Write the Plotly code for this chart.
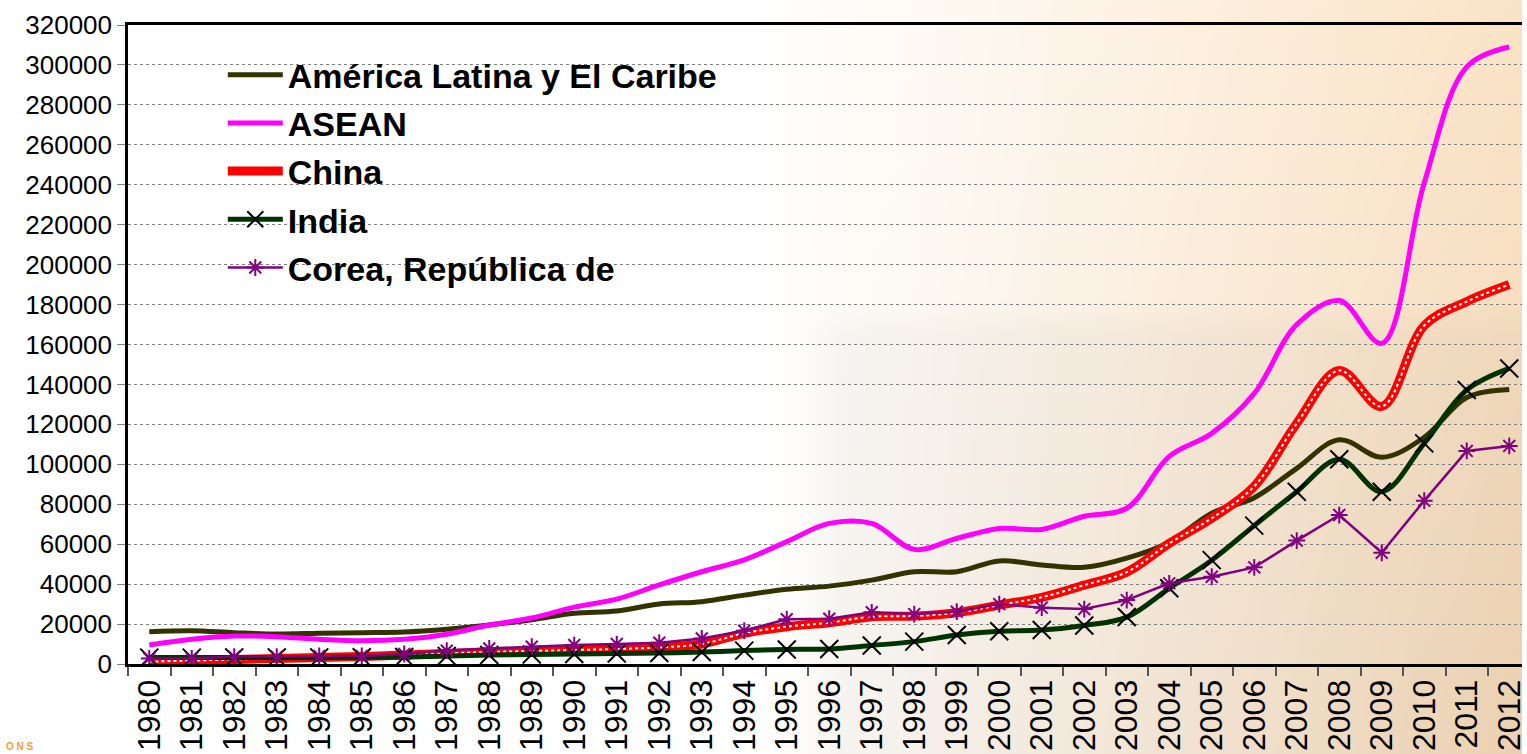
import base64
import struct
import zlib

import numpy as np
import plotly.graph_objects as go

years = [str(y) for y in range(1980, 2013)]

latam = [16200, 16700, 15700, 15000, 15400, 15700, 16000, 17400, 19500, 22200,
         25400, 26500, 30000, 31200, 34500, 37400, 39000, 42000, 46200, 46200,
         51600, 49600, 48400, 53000, 61000, 75500, 83300, 98000, 112300, 103500,
         113500, 133500, 137500]
asean = [9500, 12400, 14000, 13700, 12400, 11700, 12400, 14900, 19500, 23000,
         28500, 32500, 39600, 46200, 52100, 61300, 70400, 70400, 57400, 62900,
         67900, 67400, 74000, 78000, 104000, 115500, 135500, 170000, 182000, 160600,
         241000, 299000, 309000]
china = [1200, 1700, 2300, 2800, 3300, 3800, 4500, 5300, 6000, 6500,
         7000, 7500, 8300, 10000, 15400, 18700, 20700, 23700, 24000, 25700,
         29500, 33400, 39500, 46000, 60400, 73000, 89000, 120500, 147000, 129000,
         169500, 181500, 190000]
india = [3200, 3200, 3300, 3300, 3300, 3400, 3500, 4000, 4500, 4800,
         5000, 5300, 5500, 6000, 6700, 7300, 7500, 9300, 11200, 14500,
         16400, 17000, 19300, 23500, 37900, 52000, 69300, 86300, 102500, 86300,
         110500, 137200, 148000]
korea = [2800, 2800, 3700, 3700, 4000, 4000, 5000, 6700, 7800, 8700,
         9500, 10000, 10700, 12800, 16700, 22400, 22700, 25900, 25000, 26200,
         30000, 28200, 27500, 32000, 40400, 43700, 48400, 61800, 74600, 55700,
         81800, 106700, 109200]

W, H = 1527, 754


def background_uri():
    # white on the left fading into peach on the right, with a faint grey box
    x = np.arange(W, dtype=float)
    y = np.arange(H, dtype=float)
    t = np.clip((x - 760) / (W - 760), 0, 1) ** 1.05
    v = (y / H)[:, None]
    top = np.array([251, 228, 198], dtype=float)
    bot = np.array([242, 215, 182], dtype=float)
    right = top * (1 - v) + bot * v
    img = 255 * (1 - t[None, :, None]) + right[:, None, :] * t[None, :, None]
    mx = np.clip((x - 800) / 45, 0, 1)[None, :]
    my = np.clip((y - 300) / 35, 0, 1)[:, None]
    img *= (1 - 0.028 * mx * my)[:, :, None]
    img = np.clip(img, 0, 255).astype(np.uint8)
    raw = np.concatenate([np.zeros((H, 1), np.uint8), img.reshape(H, W * 3)], axis=1).tobytes()

    def chunk(tag, data):
        c = struct.pack(">I", len(data)) + tag + data
        return c + struct.pack(">I", zlib.crc32(tag + data) & 0xffffffff)

    png = b"\x89PNG\r\n\x1a\n" + chunk(b"IHDR", struct.pack(">IIBBBBB", W, H, 8, 2, 0, 0, 0)) \
        + chunk(b"IDAT", zlib.compress(raw, 9)) + chunk(b"IEND", b"")
    return "data:image/png;base64," + base64.b64encode(png).decode()


fig = go.Figure()

fig.add_trace(go.Scatter(x=years, y=latam, mode="lines", name="América Latina y El Caribe",
                         legendgroup="a",
                         line=dict(color="#333300", width=5, shape="spline", smoothing=1)))
fig.add_trace(go.Scatter(x=years, y=asean, mode="lines", name="ASEAN", legendgroup="b",
                         line=dict(color="#FF00FF", width=5, shape="spline", smoothing=1)))
fig.add_trace(go.Scatter(x=years, y=china, mode="lines", name="China", legendgroup="c",
                         line=dict(color="#FF0000", width=9, shape="spline", smoothing=1)))
# white dots inside the China line
fig.add_trace(go.Scatter(x=years, y=china, mode="lines", showlegend=False, hoverinfo="skip",
                         legendgroup="c",
                         line=dict(color="white", width=2, dash="dot", shape="spline", smoothing=1)))
fig.add_trace(go.Scatter(x=years, y=india, mode="lines+markers", name="India", legendgroup="d",
                         line=dict(color="#003300", width=5, shape="spline", smoothing=1),
                         marker=dict(symbol="x-thin", size=18, color="black",
                                     line=dict(color="black", width=2))))
fig.add_trace(go.Scatter(x=years, y=korea, mode="lines+markers", name="Corea, República de",
                         legendgroup="e",
                         line=dict(color="#800080", width=2.5),
                         marker=dict(symbol="asterisk", size=14, color="#800080",
                                     line=dict(color="#800080", width=2))))

fig.update_layout(
    width=W, height=H,
    margin=dict(l=128, r=0, t=25, b=90),
    paper_bgcolor="rgba(0,0,0,0)",
    plot_bgcolor="rgba(0,0,0,0)",
    font=dict(family="Arial, Liberation Sans, sans-serif", color="black"),
    showlegend=True,
    legend=dict(x=0.068, y=0.967, xanchor="left", yanchor="top",
                bgcolor="rgba(0,0,0,0)", itemwidth=55, tracegroupgap=1,
                font=dict(size=34, family="Arial, Liberation Sans, sans-serif", weight="bold")),
    images=[dict(source=background_uri(), xref="paper", yref="paper",
                 x=-128 / 1399, y=1 + 25 / 639, sizex=W / 1399, sizey=H / 639,
                 xanchor="left", yanchor="top", sizing="stretch", layer="below")],
    annotations=[dict(text="<b>O N S</b>", xref="paper", yref="paper",
                      x=-124 / 1399, y=-82 / 639, xanchor="left", yanchor="middle",
                      showarrow=False, font=dict(size=10, color="#F0A030"))],
)

fig.update_xaxes(
    type="category", range=[-0.5, 32.3],
    tickangle=-90, tickfont=dict(size=32),
    showline=True, linecolor="black", linewidth=3, mirror=True,
    ticks="outside", tickson="boundaries", ticklen=9, tickcolor="#555555", tickwidth=1.5,
    showgrid=False,
)
fig.update_yaxes(
    range=[0, 320000], tickvals=list(range(0, 320001, 20000)), tickformat="d",
    tickfont=dict(size=26),
    showline=True, linecolor="black", linewidth=2.5,
    ticks="outside", ticklen=8, tickcolor="#808080",
    showgrid=True, gridcolor="#808080", gridwidth=1, griddash="dot",
    zeroline=False,
)

fig.write_html("out.html", config={"displayModeBar": False},
               post_script="document.body.style.margin='0';")
